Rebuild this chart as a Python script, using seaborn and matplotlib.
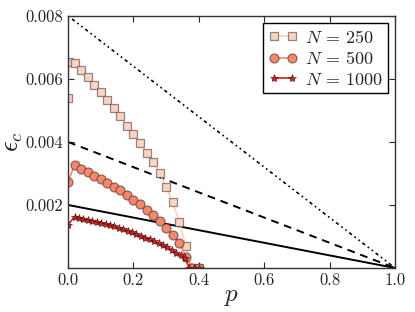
import numpy as np
import pandas as pd
import matplotlib
matplotlib.use("Agg")
import matplotlib.pyplot as plt
import seaborn as sns
from matplotlib.ticker import FormatStrFormatter

# N = 250 (squares)
p_250 = [0.0, 0.002, 0.02, 0.04, 0.06, 0.08, 0.10, 0.12, 0.14, 0.16, 0.18, 0.20,
         0.22, 0.24, 0.26, 0.28, 0.30, 0.32, 0.34, 0.36, 0.38, 0.40]
eps_250 = [0.0054, 0.00655, 0.00652, 0.00629, 0.00607, 0.00582, 0.0056, 0.00533,
           0.00509, 0.00483, 0.00452, 0.00424, 0.00398, 0.00366, 0.00336, 0.00301,
           0.00258, 0.00209, 0.00147, 0.0007, 0.0, 0.0]

# N = 500 (circles)
p_500 = [0.0, 0.02, 0.04, 0.06, 0.08, 0.10, 0.12, 0.14, 0.16, 0.18, 0.20, 0.22,
         0.24, 0.26, 0.28, 0.30, 0.32, 0.34, 0.36, 0.38, 0.40]
eps_500 = [0.00274, 0.00327, 0.00314, 0.00304, 0.00293, 0.00282, 0.00269, 0.00258,
           0.00248, 0.00232, 0.00216, 0.00203, 0.00184, 0.00168, 0.0015, 0.00128,
           0.00105, 0.0008, 0.00036, 0.0, 0.0]

# N = 1000 (stars)
p_1000 = [0.0, 0.02, 0.034, 0.047, 0.061, 0.074, 0.088, 0.101, 0.115, 0.128, 0.142,
          0.155, 0.169, 0.182, 0.196, 0.209, 0.223, 0.236, 0.25, 0.263, 0.277, 0.29,
          0.304, 0.317, 0.331, 0.344, 0.358, 0.37, 0.385, 0.40]
eps_1000 = [0.00137, 0.00163, 0.0016, 0.00156, 0.00153, 0.0015, 0.00147, 0.00144,
            0.0014, 0.00136, 0.00132, 0.00128, 0.00124, 0.00119, 0.00113, 0.00108,
            0.00102, 0.00096, 0.00091, 0.00085, 0.00079, 0.00073, 0.00066, 0.00058,
            0.00049, 0.00041, 0.00032, 0.0, 0.0, 0.0]

# straight reference lines eps = c (1 - p)
p_line = [0.0, 1.0]
eps_line_8 = [0.008, 0.0]
eps_line_4 = [0.004, 0.0]
eps_line_2 = [0.002, 0.0]

sns.set_style("ticks")
plt.rcParams["font.family"] = ["cmr10", "DejaVu Serif"]
plt.rcParams["mathtext.fontset"] = "cm"
plt.rcParams["axes.formatter.use_mathtext"] = True
plt.rcParams["xtick.direction"] = "in"
plt.rcParams["ytick.direction"] = "in"

col_250 = "#fdd3c1"
col_500 = "#f5876a"
col_1000 = "#d3201f"

fig = plt.figure(figsize=(4.15, 3.12), dpi=100)
ax = fig.add_axes([0.164, 0.141, 0.788, 0.808])

sns.lineplot(x=p_line, y=eps_line_8, ax=ax, color="black", lw=1.2,
             linestyle=(0, (1.0, 2.0, 2.0, 2.0, 1.0, 2.0)))
sns.lineplot(x=p_line, y=eps_line_4, ax=ax, color="black", lw=1.4,
             linestyle=(0, (4, 3)))
sns.lineplot(x=p_line, y=eps_line_2, ax=ax, color="black", lw=1.4)

sns.lineplot(x=p_250, y=eps_250, ax=ax, color=col_250, lw=1.2, sort=False,
             estimator=None, marker="s", markersize=6,
             markeredgecolor=(0.35, 0.3, 0.3, 0.65), markeredgewidth=0.9,
             label="$N\\,=\\,250$")
sns.lineplot(x=p_500, y=eps_500, ax=ax, color=col_500, lw=1.2, sort=False,
             estimator=None, marker="o", markersize=6.5,
             markeredgecolor=(0.35, 0.2, 0.2, 0.7), markeredgewidth=0.8,
             label="$N\\,=\\,500$")
sns.lineplot(x=p_1000, y=eps_1000, ax=ax, color=col_1000, lw=1.2, sort=False,
             estimator=None, marker="*", markersize=6,
             markeredgecolor=(0.25, 0.05, 0.05, 0.8), markeredgewidth=0.5,
             label="$N\\,=\\,1000$")

ax.set_xlim(0, 1)
ax.set_ylim(0, 0.008)
ax.set_xticks([0.0, 0.2, 0.4, 0.6, 0.8, 1.0])
ax.set_yticks([0.002, 0.004, 0.006, 0.008])
ax.xaxis.set_major_formatter(FormatStrFormatter("%.1f"))
ax.yaxis.set_major_formatter(FormatStrFormatter("%.3f"))
ax.tick_params(top=True, right=True, labelsize=12, length=4, width=0.8)
for s in ax.spines.values():
    s.set_visible(True)
    s.set_linewidth(1.0)
    s.set_color("#333333")

ax.set_xlabel("$p$", fontsize=18, labelpad=-2)
ax.set_ylabel("$\\epsilon_c$", fontsize=19, labelpad=0)

ax.legend(loc="upper right", numpoints=2, fontsize=13, frameon=True,
          fancybox=False, edgecolor="black", framealpha=1,
          handlelength=1.6, handletextpad=0.4, borderpad=0.3,
          labelspacing=0.25, borderaxespad=0.4)

fig.savefig("out.png", dpi=100)
